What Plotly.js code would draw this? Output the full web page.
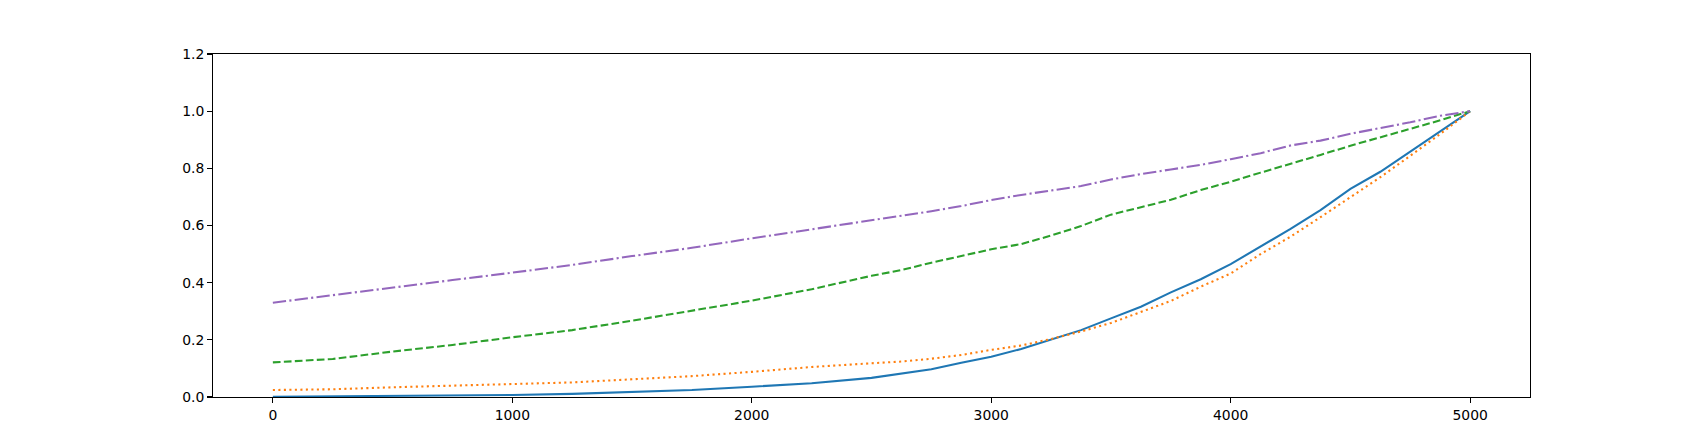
<!DOCTYPE html>
<html>
<head>
<meta charset="utf-8">
<script src="https://cdn.plot.ly/plotly-3.0.1.min.js"></script>
<style>html,body{margin:0;padding:0;background:#fff;}#chart{width:1700px;height:446px;}</style>
</head>
<body>
<div id="chart"></div>
<script>
const xValues = [0,250,500,750,1000,1250,1500,1750,2000,2250,2500,2625,2750,2875,3000,3125,3250,3375,3500,3625,3750,3875,4000,4125,4250,4375,4500,4625,4750,4875,5000];
const blueSeries   = [0.001,0.002,0.003,0.005,0.007,0.011,0.0175,0.0245,0.036,0.048,0.067,0.083,0.097,0.120,0.141,0.168,0.200,0.234,0.275,0.316,0.366,0.412,0.465,0.526,0.588,0.654,0.728,0.788,0.858,0.928,1.0];
const orangeSeries = [0.0245,0.027,0.034,0.040,0.045,0.051,0.062,0.073,0.088,0.105,0.118,0.124,0.134,0.147,0.165,0.180,0.203,0.229,0.259,0.298,0.336,0.386,0.432,0.500,0.561,0.629,0.700,0.769,0.844,0.920,1.0];
const greenSeries  = [0.121,0.133,0.159,0.182,0.209,0.234,0.267,0.302,0.337,0.377,0.424,0.444,0.470,0.493,0.517,0.535,0.565,0.598,0.638,0.664,0.690,0.724,0.753,0.785,0.815,0.847,0.879,0.908,0.938,0.968,1.0];
const purpleSeries = [0.330,0.357,0.384,0.409,0.435,0.462,0.493,0.522,0.555,0.587,0.619,0.633,0.650,0.668,0.689,0.707,0.723,0.738,0.761,0.780,0.796,0.812,0.832,0.853,0.880,0.897,0.921,0.940,0.961,0.984,1.0];
const xTicks = [0,1000,2000,3000,4000,5000];
const yTicks = [0,0.2,0.4,0.6,0.8,1.0,1.2];
const yTickLabels = ['0.0','0.2','0.4','0.6','0.8','1.0','1.2'];

const mk = (y, color, dash) => ({
  x: xValues, y: y, type: 'scatter', mode: 'lines',
  line: {color: color, width: 2.08, dash: dash},
  hoverinfo: 'skip'
});
const data = [
  mk(blueSeries, '#1f77b4', 'solid'),
  mk(orangeSeries, '#ff7f0e', '2.1px,3.4px'),
  mk(greenSeries, '#2ca02c', '7.7px,3.3px'),
  mk(purpleSeries, '#9467bd', '13.3px,3.3px,2.1px,3.3px')
];
const axisCommon = {
  showgrid: false, zeroline: false, showline: true, mirror: true,
  linecolor: '#000', linewidth: 1.1,
  ticks: 'outside', ticklen: 4.9, tickwidth: 1.1, tickcolor: '#000',
  tickfont: {family: 'DejaVu Sans', size: 13.9, color: '#000'},
  fixedrange: true
};
const layout = {
  width: 1700, height: 446,
  margin: {l: 213, r: 170, t: 54, b: 49, pad: 0},
  paper_bgcolor: '#fff', plot_bgcolor: '#fff',
  showlegend: false,
  xaxis: Object.assign({}, axisCommon, {range: [-250, 5250], tickmode: 'array', tickvals: xTicks, ticktext: xTicks.map(String)}),
  yaxis: Object.assign({}, axisCommon, {range: [0, 1.2], tickmode: 'array', tickvals: yTicks, ticktext: yTickLabels})
};
Plotly.newPlot('chart', data, layout, {displayModeBar: false, staticPlot: true});
</script>
</body>
</html>
